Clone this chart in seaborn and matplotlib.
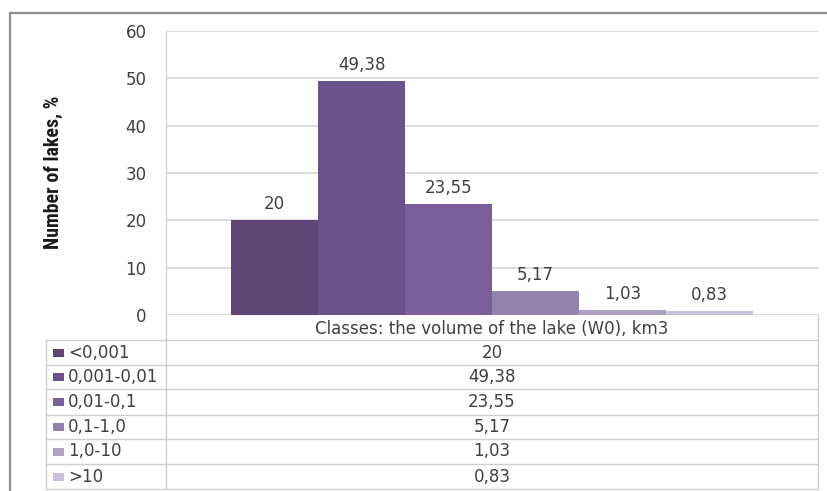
import matplotlib
matplotlib.use("Agg")
import matplotlib.pyplot as plt
from matplotlib import font_manager
from matplotlib.lines import Line2D
from matplotlib.patches import Rectangle
import pandas as pd
import seaborn as sns

# Lake volume classes (km3) and share of lakes in each class (%)
classes = ["<0,001", "0,001-0,01", "0,01-0,1", "0,1-1,0", "1,0-10", ">10"]
shares = [20, 49.38, 23.55, 5.17, 1.03, 0.83]
value_labels = ["20", "49,38", "23,55", "5,17", "1,03", "0,83"]
colors = ["#5E4676", "#6C528A", "#7B5F9A", "#9282AE", "#ADA1C5", "#C9C1D9"]
y_ticks = [0, 10, 20, 30, 40, 50, 60]
header = "Classes: the volume of the lake (W0), km3"
y_title = "Number of lakes, %"

sns.set_theme(style="white")

installed = {f.name for f in font_manager.fontManager.ttflist}
narrow = next((n for n in ["Liberation Sans Narrow", "Roboto Condensed", "Open Sans Condensed",
                           "Liberation Sans"] if n in installed), "DejaVu Sans")
plt.rcParams["font.family"] = ["DejaVu Sans"]

FS = 12
TXT = "#404040"

W, H = 827, 491
fig = plt.figure(figsize=(W / 100, H / 100), dpi=100)
fig.patch.set_facecolor("white")

def fx(px):
    return px / W

def fy(py):
    return 1 - py / H

# plot area in pixel coordinates
L, R, T, B = 166, 818, 31, 315
ax = fig.add_axes([fx(L), fy(B), fx(R) - fx(L), fy(T) - fy(B)])

df = pd.DataFrame({"group": ["all"] * len(classes), "cls": classes, "share": shares})
sns.barplot(data=df, x="group", y="share", hue="cls", hue_order=classes,
            palette=colors, width=0.8, gap=0, dodge=True, legend=False,
            saturation=1, linewidth=0, ax=ax)

ax.set_xlim(-0.5, 0.5)
ax.set_ylim(0, 60)
ax.set_yticks(y_ticks)
ax.set_yticklabels([str(t) for t in y_ticks], fontsize=FS, color=TXT)
ax.tick_params(axis="y", length=0, pad=14)
ax.set_xticks([])
ax.set_xlabel("")
ax.set_ylabel("")
ax.grid(axis="y", color="#D9D9D9", linewidth=1.3)
ax.set_axisbelow(True)
for side in ["top", "right", "bottom"]:
    ax.spines[side].set_visible(False)
ax.spines["left"].set_color("#D9D9D9")
ax.spines["left"].set_linewidth(1.0)

for container, lab in zip(ax.containers, value_labels):
    ax.bar_label(container, labels=[lab], padding=5, fontsize=FS, color=TXT)

fig.text(fx(53), fy(172), y_title, rotation=90, ha="center", va="center",
         fontsize=14.3, family=[narrow, "DejaVu Sans"], fontweight="bold", color="#1a1a1a")

# outer chart frame
frame_c = "#8F8F8F"
fig.add_artist(Line2D([fx(10), fx(10)], [fy(13), fy(H + 5)], color=frame_c, lw=1.6))
fig.add_artist(Line2D([fx(10), fx(W + 5)], [fy(13), fy(13)], color=frame_c, lw=1.6))

# data table under the axis
line_c = "#CFCFCF"
row_edges = [315, 340, 365, 389, 415, 439, 464, 489]
tab_left = 46

def hline(y, x0, x1):
    fig.add_artist(Line2D([fx(x0), fx(x1)], [fy(y), fy(y)], color=line_c, lw=1.0))

def vline(x, y0, y1):
    fig.add_artist(Line2D([fx(x), fx(x)], [fy(y0), fy(y1)], color=line_c, lw=1.0))

vline(L, B, row_edges[-1])
vline(R, B, row_edges[-1])
vline(tab_left, row_edges[1], row_edges[-1])
for y in row_edges[1:]:
    hline(y, tab_left, R)

xc = (L + R) / 2
fig.text(fx(xc), fy((row_edges[0] + row_edges[1]) / 2 + 1), header, ha="center", va="center",
         fontsize=FS, color=TXT)

for i, (cls, lab, col) in enumerate(zip(classes, value_labels, colors)):
    yc = (row_edges[i + 1] + row_edges[i + 2]) / 2
    fig.add_artist(Rectangle((fx(53), fy(yc + 4)), fx(11) - fx(0), fy(0) - fy(8),
                             facecolor=col, edgecolor="none", transform=fig.transFigure))
    fig.text(fx(68), fy(yc), cls, ha="left", va="center", fontsize=FS, color=TXT)
    fig.text(fx(xc), fy(yc), lab, ha="center", va="center", fontsize=FS, color=TXT)

fig.savefig("out.png", dpi=100, facecolor="white")
